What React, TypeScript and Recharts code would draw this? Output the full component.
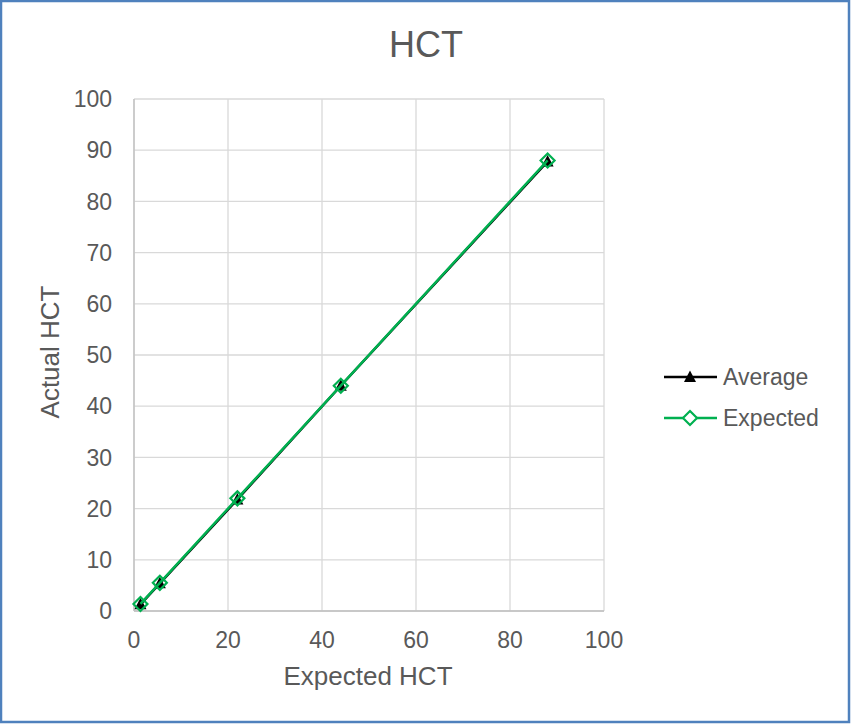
import React from 'react';
import { ScatterChart, Scatter, XAxis, YAxis, CartesianGrid } from 'recharts';

const expectedX = [1.375, 5.5, 22, 44, 88];
const averageY = [1.3, 5.4, 21.8, 44.0, 87.8];
const expectedY = [1.375, 5.5, 22, 44, 88];
const xTicks = [0, 20, 40, 60, 80, 100];
const yTicks = [0, 10, 20, 30, 40, 50, 60, 70, 80, 90, 100];

const averageData = expectedX.map((x, i) => ({ x, y: averageY[i] }));
const expectedData = expectedX.map((x, i) => ({ x, y: expectedY[i] }));

const FONT = '"Liberation Sans", Arial, sans-serif';
const TEXT = '#595959';
const GREEN = '#00B050';

const Triangle = (props: any) => {
  const { cx, cy } = props;
  return <path d={`M${cx},${cy - 6.5} L${cx + 6},${cy + 5} L${cx - 6},${cy + 5} Z`} fill="#000" />;
};

const Diamond = (props: any) => {
  const { cx, cy } = props;
  return (
    <path
      d={`M${cx},${cy - 7} L${cx + 7},${cy} L${cx},${cy + 7} L${cx - 7},${cy} Z`}
      fill="none"
      stroke={GREEN}
      strokeWidth={2.2}
    />
  );
};

const legendItems = [
  { name: 'Average', color: '#000', marker: 'triangle' },
  { name: 'Expected', color: GREEN, marker: 'diamond' },
];

export default function App() {
  return (
    <div style={{ position: 'relative', width: 851, height: 725, background: '#fff', fontFamily: FONT }}>
      <style>{`body{margin:0}`}</style>
      <ScatterChart width={851} height={725} margin={{ top: 99, right: 247, bottom: 0, left: 0 }}>
        <CartesianGrid stroke="#d9d9d9" strokeWidth={1.3} />
        <XAxis
          type="number"
          dataKey="x"
          domain={[0, 100]}
          ticks={xTicks}
          height={114}
          tickLine={false}
          tickSize={0}
          tickMargin={21}
          axisLine={{ stroke: '#bfbfbf', strokeWidth: 1.3 }}
          tick={{ fill: TEXT, fontSize: 23, fontFamily: FONT }}
        />
        <YAxis
          type="number"
          dataKey="y"
          domain={[0, 100]}
          ticks={yTicks}
          width={134}
          tickLine={false}
          tickSize={0}
          tickMargin={22}
          axisLine={{ stroke: '#bfbfbf', strokeWidth: 1.3 }}
          tick={{ fill: TEXT, fontSize: 23, fontFamily: FONT }}
        />
        <Scatter
          name="Average"
          data={averageData}
          line={{ stroke: '#000', strokeWidth: 2.5 }}
          shape={<Triangle />}
          isAnimationActive={false}
        />
        <Scatter
          name="Expected"
          data={expectedData}
          line={{ stroke: GREEN, strokeWidth: 2.5 }}
          shape={<Diamond />}
          isAnimationActive={false}
        />
      </ScatterChart>
      <svg width={851} height={725} style={{ position: 'absolute', left: 0, top: 0, pointerEvents: 'none' }}>
        <text x={426} y={57} textAnchor="middle" fontSize={36} fill={TEXT} fontFamily={FONT}>HCT</text>
        <text x={368} y={685} textAnchor="middle" fontSize={26} fill={TEXT} fontFamily={FONT}>Expected HCT</text>
        <text
          x={59}
          y={352}
          textAnchor="middle"
          fontSize={26}
          fill={TEXT}
          fontFamily={FONT}
          transform="rotate(-90 59 352)"
        >
          Actual HCT
        </text>
        {legendItems.map((item, i) => {
          const y = 377 + i * 41;
          return (
            <g key={item.name}>
              <line x1={664} x2={717} y1={y} y2={y} stroke={item.color} strokeWidth={2.5} />
              {item.marker === 'triangle' ? <Triangle cx={690} cy={y} /> : (
                <path
                  d={`M690,${y - 7} L697,${y} L690,${y + 7} L683,${y} Z`}
                  fill="#fff"
                  stroke={GREEN}
                  strokeWidth={2.2}
                />
              )}
              <text x={723} y={y + 8} fontSize={23} fill={TEXT} fontFamily={FONT}>{item.name}</text>
            </g>
          );
        })}
        <rect x={1} y={1} width={848} height={721} fill="none" stroke="#4F81BD" strokeWidth={2.5} />
      </svg>
    </div>
  );
}
